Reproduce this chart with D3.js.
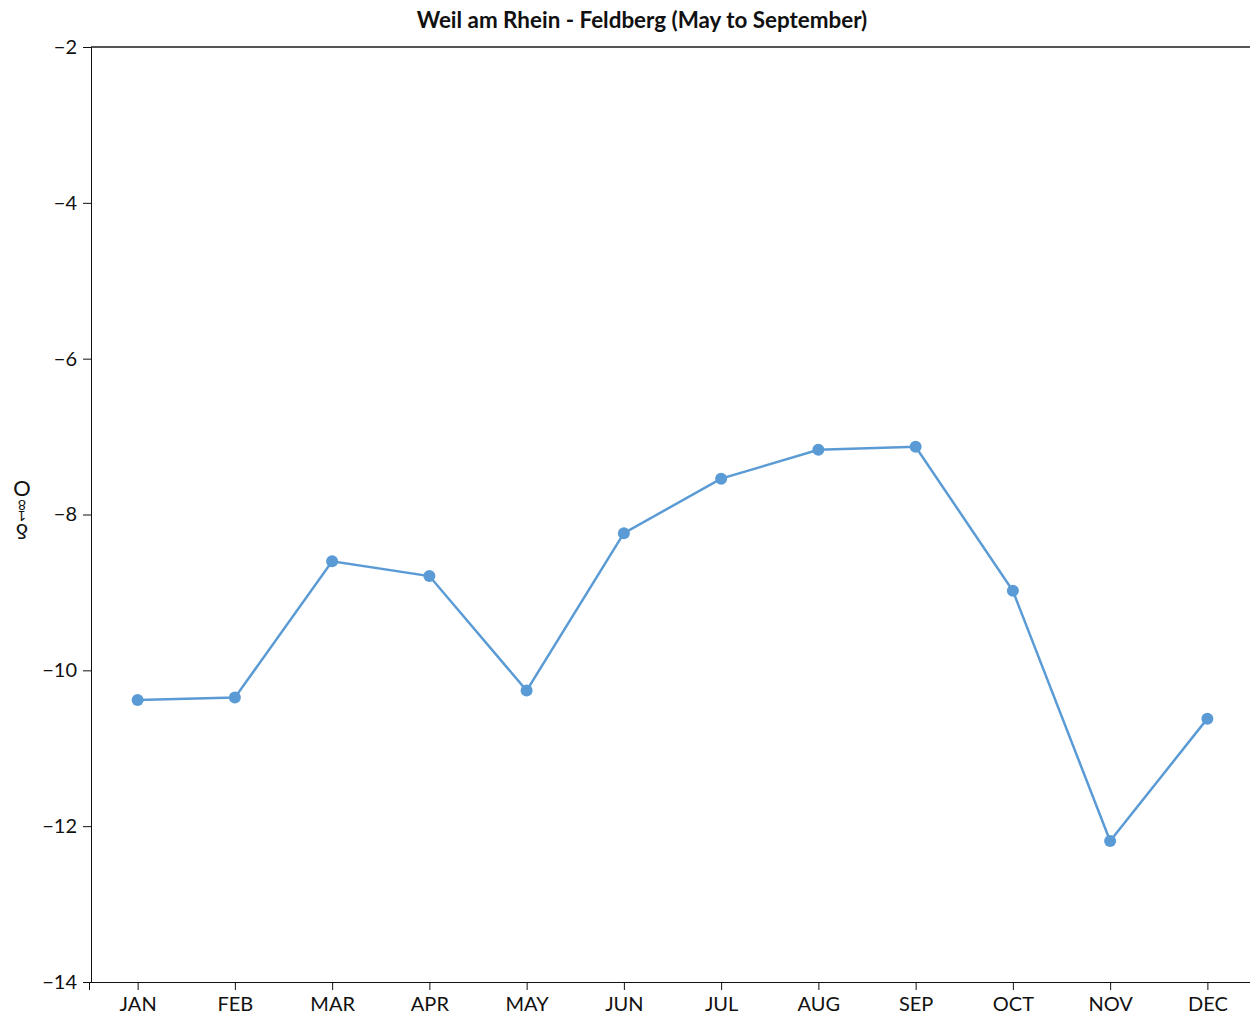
<!DOCTYPE html>
<html>
<head>
<meta charset="utf-8">
<script src="https://d3js.org/d3.v7.min.js"></script>
<style>
  body { margin: 0; background: #fff; }
  svg { display: block; font-family: Lato, "Open Sans", sans-serif; }
</style>
</head>
<body>
<svg width="1250" height="1015"></svg>
<script>
var months = ["JAN", "FEB", "MAR", "APR", "MAY", "JUN", "JUL", "AUG", "SEP", "OCT", "NOV", "DEC"];
var values = [-10.38, -10.35, -8.60, -8.79, -10.26, -8.24, -7.54, -7.17, -7.13, -8.98, -12.19, -10.62];
var yTicks = [-2, -4, -6, -8, -10, -12, -14];
var title = "Weil am Rhein - Feldberg (May to September)";

var svg = d3.select("svg");

var x = d3.scalePoint()
    .domain(months)
    .range([89, 1256])
    .padding(0.5);

var y = d3.scaleLinear()
    .domain([-14, -2])
    .range([982, 47]);

var data = months.map(function(m, i) { return {month: m, value: values[i]}; });

// top border line
svg.append("line")
    .attr("x1", 91).attr("x2", 1250)
    .attr("y1", y(-2)).attr("y2", y(-2))
    .style("stroke", "#555")
    .style("stroke-width", 2);

var yAxis = svg.append("g")
    .attr("transform", "translate(91,0)")
    .call(d3.axisLeft(y).tickValues(yTicks).tickSizeInner(8).tickSizeOuter(8).tickPadding(6)
        .tickFormat(function(d) { return String(d).replace("-", "\u2212"); }));

var xAxis = svg.append("g")
    .attr("transform", "translate(0,982)")
    .call(d3.axisBottom(x).tickSizeInner(8).tickSizeOuter(8).tickPadding(7));

svg.selectAll(".tick text")
    .style("font-family", "Lato, 'Open Sans', sans-serif")
    .style("font-size", "20px")
    .style("fill", "#111");
svg.selectAll(".domain, .tick line").style("stroke", "#111");

svg.append("text")
    .attr("x", 642)
    .attr("y", 28)
    .attr("text-anchor", "middle")
    .style("font-size", "22.4px")
    .style("font-weight", "bold")
    .style("fill", "#111")
    .text(title);

// y axis label, drawn upside-down in a vertical stack as in the reference
var yLabel = svg.append("text")
    .attr("transform", "translate(22,514) rotate(180)")
    .attr("text-anchor", "middle")
    .style("writing-mode", "vertical-rl")
    .style("text-orientation", "upright")
    .style("letter-spacing", "-6px")
    .style("font-size", "22px")
    .style("fill", "#111");
yLabel.append("tspan").text("\u03b4");
yLabel.append("tspan").style("font-size", "14px").text("18");
yLabel.append("tspan").text("O");

var line = d3.line()
    .x(function(d) { return x(d.month); })
    .y(function(d) { return y(d.value); });

svg.append("path")
    .datum(data)
    .attr("d", line)
    .style("fill", "none")
    .style("stroke", "#5b9bd5")
    .style("stroke-width", 2.5);

svg.append("g")
    .selectAll("circle")
    .data(data)
    .enter().append("circle")
    .attr("cx", function(d) { return x(d.month); })
    .attr("cy", function(d) { return y(d.value); })
    .attr("r", 6)
    .style("fill", "#5b9bd5");
</script>
</body>
</html>
